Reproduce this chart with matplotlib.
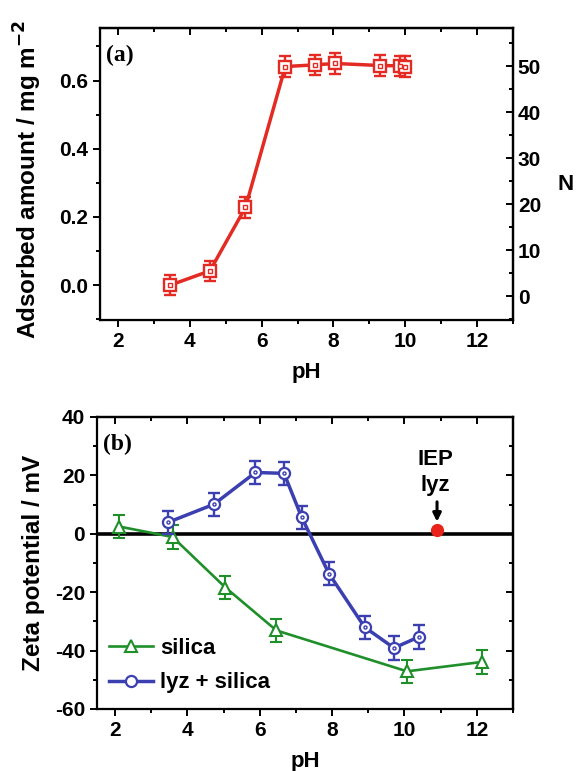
import matplotlib.pyplot as plt
from matplotlib.ticker import MultipleLocator

plt.rcParams['font.family'] = ['Liberation Sans', 'DejaVu Sans']
plt.rcParams['font.weight'] = 'bold'
plt.rcParams['axes.labelweight'] = 'bold'
plt.rcParams['axes.unicode_minus'] = False

# (a) adsorbed amount vs pH
ph_ads = [3.45, 4.56, 5.55, 6.66, 7.49, 8.05, 9.31, 9.85, 10.0]
ads = [0.0, 0.042, 0.228, 0.641, 0.646, 0.650, 0.644, 0.643, 0.641]
ads_err = [0.03, 0.03, 0.03, 0.03, 0.03, 0.03, 0.03, 0.03, 0.03]

# (b) zeta potential vs pH
ph_silica = [2.11, 3.59, 5.05, 6.46, 10.07, 12.13]
zeta_silica = [2.5, -1.1, -18.4, -33.1, -47.1, -43.9]
err_silica = [4.0, 4.0, 4.0, 4.0, 4.0, 4.0]

ph_lyz = [3.46, 4.73, 5.88, 6.67, 7.16, 7.91, 8.90, 9.71, 10.40]
zeta_lyz = [3.9, 10.1, 21.0, 20.7, 5.6, -13.6, -32.0, -39.1, -35.3]
err_lyz = [4.0, 4.0, 4.0, 4.0, 4.0, 4.0, 4.0, 4.0, 4.0]

iep_ph = 10.9
iep_zeta = 1.4

red = '#e32b24'
green = '#1f8f2a'
blue = '#3b3fb0'
fs = 15
fs_lab = 17.5

fig = plt.figure(figsize=(5.77, 7.71), dpi=100)
ax1 = fig.add_axes([100/577, 1-320/771, 413/577, 292/771])
ax3 = fig.add_axes([97/577, 1-709/771, 416/577, 292/771])


def style_axis(ax):
    for s in ax.spines.values():
        s.set_linewidth(1.6)
    ax.set_xlim(1.5, 13.0)
    ax.xaxis.set_major_locator(MultipleLocator(2))
    ax.xaxis.set_minor_locator(MultipleLocator(1))
    ax.tick_params(which='both', direction='out', width=1.4, labelsize=fs, top=False, right=False)
    ax.tick_params(which='major', length=5)
    ax.tick_params(which='minor', length=3)
    top = ax.secondary_xaxis('top')
    top.xaxis.set_major_locator(MultipleLocator(2))
    top.xaxis.set_minor_locator(MultipleLocator(1))
    top.tick_params(which='both', direction='in', width=1.4, labeltop=False)
    top.tick_params(which='major', length=5)
    top.tick_params(which='minor', length=3)
    top.spines['top'].set_linewidth(1.6)
    ax.set_xlabel('pH', fontsize=fs + 1)
    ax.xaxis.set_label_coords(0.5, -0.145)


# ---- panel (a)
style_axis(ax1)
ax1.set_ylim(-0.102, 0.754)
ax1.yaxis.set_minor_locator(MultipleLocator(0.1))
ax1.set_yticks([0.0, 0.2, 0.4, 0.6])
ax1.set_yticklabels(['0.0', '0.2', '0.4', '0.6'])
ax1.errorbar(ph_ads, ads, yerr=ads_err, fmt='none', ecolor=red, elinewidth=1.7,
             capsize=4, capthick=1.7)
ax1.plot(ph_ads, ads, color=red, lw=2.5, marker='s', ms=8, mfc='white',
         mec=red, mew=1.7)
ax1.plot(ph_ads, ads, ls='none', marker='s', ms=2.4, mfc='white', mec=red, mew=1.0)
ax1.set_ylabel('Adsorbed amount / mg m$^{\\mathbf{-2}}$', fontsize=fs_lab)
ax1.yaxis.set_label_coords(-0.135, 0.48)
ax1.text(0.015, 0.905, '(a)', transform=ax1.transAxes, fontsize=17,
         family='Liberation Serif', weight='bold', va='center')

ax2 = ax1.twinx()
ax2.set_ylim(-5.2, 58.3)
ax2.yaxis.set_minor_locator(MultipleLocator(5))
ax2.set_yticks([0, 10, 20, 30, 40, 50])
ax2.tick_params(which='both', direction='in', width=1.4, labelsize=fs)
ax2.tick_params(which='major', length=5)
ax2.tick_params(which='minor', length=3)
ax2.spines['right'].set_linewidth(1.6)
ax2.set_ylabel('N', fontsize=fs + 1, rotation=0)
ax2.yaxis.set_label_coords(1.128, 0.5)

# ---- panel (b)
style_axis(ax3)
ax3.set_ylim(-60, 40)
ax3.yaxis.set_major_locator(MultipleLocator(20))
ax3.yaxis.set_minor_locator(MultipleLocator(10))
right = ax3.secondary_yaxis('right')
right.yaxis.set_major_locator(MultipleLocator(20))
right.yaxis.set_minor_locator(MultipleLocator(10))
right.tick_params(which='both', direction='in', width=1.4, labelright=False)
right.tick_params(which='major', length=5)
right.tick_params(which='minor', length=3)
right.spines['right'].set_linewidth(1.6)

ax3.axhline(0, color='black', lw=2.6, zorder=1)

ax3.errorbar(ph_silica, zeta_silica, yerr=err_silica, fmt='none', ecolor=green,
             elinewidth=1.5, capsize=4, capthick=1.5)
l_sil, = ax3.plot(ph_silica, zeta_silica, color=green, lw=1.9, marker='^', ms=8.5,
                  mfc='white', mec=green, mew=1.5, label='silica')

ax3.errorbar(ph_lyz, zeta_lyz, yerr=err_lyz, fmt='none', ecolor=blue,
             elinewidth=1.7, capsize=4, capthick=1.7)
l_lyz, = ax3.plot(ph_lyz, zeta_lyz, color=blue, lw=2.5, marker='o', ms=8,
                  mfc='white', mec=blue, mew=1.6, label='lyz + silica')
ax3.plot(ph_lyz, zeta_lyz, ls='none', marker='o', ms=2.2, mfc='white', mec=blue, mew=1.0)

ax3.plot([iep_ph], [iep_zeta], marker='o', ms=8.5, color='#e8231c', ls='none', zorder=5)
ax3.annotate('', xy=(iep_ph, iep_zeta + 1.8), xytext=(iep_ph, iep_zeta + 10.5),
             arrowprops=dict(arrowstyle='-|>', color='black', lw=2.2,
                             mutation_scale=12))
ax3.text(iep_ph - 0.05, 21, 'IEP\nlyz', fontsize=fs + 1, ha='center', va='center',
         linespacing=1.3)

ax3.set_ylabel('Zeta potential / mV', fontsize=fs_lab)
ax3.yaxis.set_label_coords(-0.125, 0.5)
ax3.text(0.015, 0.905, '(b)', transform=ax3.transAxes, fontsize=17,
         family='Liberation Serif', weight='bold', va='center')

ax3.legend(handles=[l_sil, l_lyz], loc='lower left', bbox_to_anchor=(-0.02, -0.015),
           frameon=False, fontsize=fs + 1, handlelength=2.0, handletextpad=0.3,
           labelspacing=0.6)

fig.savefig('out.png', dpi=100)
